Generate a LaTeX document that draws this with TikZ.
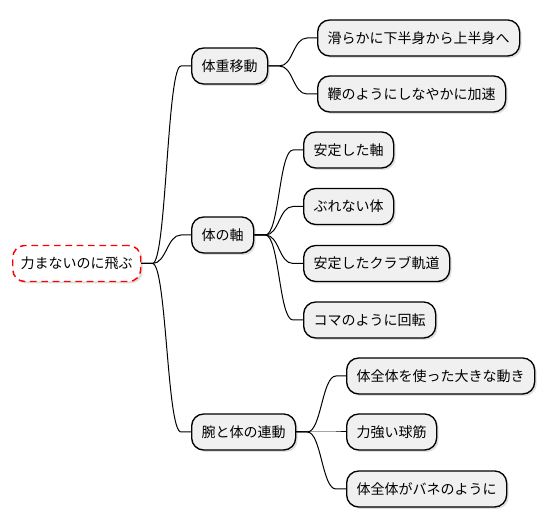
\documentclass[tikz,border=0pt]{standalone}
\usepackage{fontspec}
\newfontfamily\jpfont{Noto Sans CJK JP}
\usetikzlibrary{shadows}

\begin{document}
\begin{tikzpicture}[
            x = 0.75pt, y = -0.75pt, % one unit = one pixel
            line width = 0.75pt,
        ]
\tikzstyle{idea}=[
            shape = rectangle,
            rounded corners = 9pt,
            draw = black,
            line width = 1pt,
            fill = black!6,
            font = \jpfont\fontsize{10.5}{12}\selectfont,
            minimum height = 27pt,
            inner xsep = 7.5pt,
            anchor = west,
            drop shadow = {shadow xshift=1.5pt, shadow yshift=-1.5pt, opacity=0.25}
        ]
\tikzstyle{central}=[
            idea,
            draw = red,
            fill = white,
            line width = 1.1pt,
            inner xsep = 6pt,
            dash pattern = on 5pt off 3.5pt
        ]
\tikzstyle{branch}=[
            to path = {-- ++(11,0) .. controls +(14,0) and +(-14,0) .. ([xshift=-7.5pt]\tikztotarget.west) -- (\tikztotarget.west)}
        ]
\useasboundingbox (0,0) rectangle (544,527);
% root and main ideas
\node[central] (root) at (12,263.5) {力まないのに飛ぶ};
\node[idea] (shift) at (191,66) {体重移動};
\node[idea] (axis) at (191,235) {体の軸};
\node[idea] (link) at (191,432) {腕と体の連動};
% details
\node[idea] (shift1) at (317,38) {滑らかに下半身から上半身へ};
\node[idea] (shift2) at (317,94) {鞭のようにしなやかに加速};
\node[idea] (axis1) at (303,150) {安定した軸};
\node[idea] (axis2) at (303,206.5) {ぶれない体};
\node[idea] (axis3) at (303,263.5) {安定したクラブ軌道};
\node[idea] (axis4) at (303,320) {コマのように回転};
\node[idea] (link1) at (346,376) {体全体を使った大きな動き};
\node[idea] (link2) at (346,432) {力強い球筋};
\node[idea] (link3) at (346,489) {体全体がバネのように};
\foreach \t in {shift, axis, link}
    \draw[branch] (root.east) to (\t);
\foreach \t in {shift1, shift2}
    \draw[branch] (shift.east) to (\t);
\foreach \t in {axis1, axis2, axis3, axis4}
    \draw[branch] (axis.east) to (\t);
\foreach \t in {link1, link2, link3}
    \draw[branch] (link.east) to (\t);
\end{tikzpicture}
\end{document}
